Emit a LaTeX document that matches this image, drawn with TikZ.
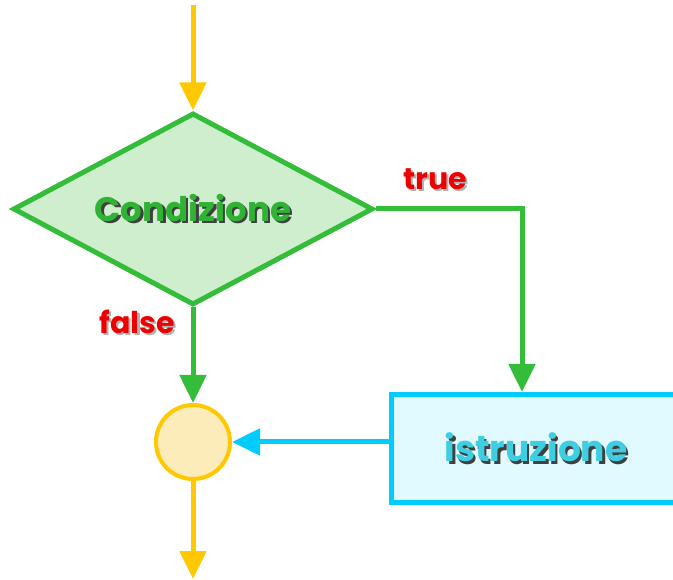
\documentclass[tikz,border=0pt]{standalone}
\usepackage{fontspec}
\setmainfont{Poppins}
\usetikzlibrary{shapes.geometric,arrows.meta}
\definecolor{flowgreen}{RGB}{51,189,56}
\definecolor{flowgreenfill}{RGB}{206,238,206}
\definecolor{flowyellow}{RGB}{255,200,0}
\definecolor{flowyellowfill}{RGB}{252,236,186}
\definecolor{flowcyan}{RGB}{0,204,255}
\definecolor{flowcyanfill}{RGB}{224,250,255}
\definecolor{tagred}{RGB}{236,0,0}
\definecolor{textgreen}{RGB}{48,178,52}
\definecolor{textcyan}{RGB}{62,206,226}
% text with a small drop shadow: {colour}{shadow colour}{text}
\newcommand{\shadowed}[3]{\makebox[0pt][l]{\hspace{2.5pt}\raisebox{-2.5pt}{\color{#2}#3}}{\color{#1}#3}}
\tikzset{flow/.style={line width=5pt, -{Triangle[width=26pt,length=28pt]}}}
\tikzset{tag/.style={font=\bfseries\fontsize{30}{30}\selectfont}}
\tikzset{bigtext/.style={font=\bfseries\fontsize{34}{34}\selectfont}}

\begin{document}
\begin{tikzpicture}[x=1pt,y=-1pt]
\path[use as bounding box, clip] (0,0) rectangle (673,580);
\node[diamond, aspect=1.86, draw=flowgreen, fill=flowgreenfill, line width=5pt, inner sep=0pt,
      minimum width=360pt, minimum height=192pt, bigtext] (cond) at (193,209)
      {\shadowed{textgreen}{black!75}{Condizione}};
\node[circle, draw=flowyellow, fill=flowyellowfill, line width=4pt, minimum size=74pt] (join) at (193,442) {};
\node[rectangle, draw=flowcyan, fill=flowcyanfill, line width=5pt, minimum width=290pt,
      minimum height=108pt, font=\bfseries\fontsize{36}{36}\selectfont] (istr) at (536,448.5)
      {\shadowed{textcyan}{black!75}{istruzione}};
\coordinate (start) at (193,5);
\coordinate (stop) at (193,579);
\coordinate (drop) at (522,0);
\draw[flow, flowyellow] (start) -- (cond.north);
\draw[flow, flowgreen] (cond.east) -| (drop |- istr.north);
\draw[flow, flowgreen] (cond.south) -- (join.north);
\draw[flow, flowcyan] (istr.west |- join) -- (join.east);
\draw[flow, flowyellow] (join.south) -- (stop);
\node[tag] (truetag) at (435,180) {\shadowed{tagred}{black!30}{true}};
\node[tag] (falsetag) at (137,323) {\shadowed{tagred}{black!30}{false}};
\end{tikzpicture}
\end{document}
